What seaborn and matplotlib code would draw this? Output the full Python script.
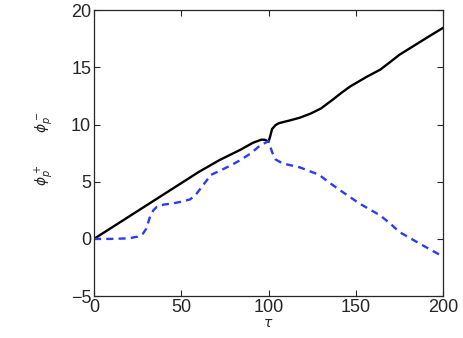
import numpy as np
import pandas as pd
import matplotlib
matplotlib.use("Agg")
import matplotlib.pyplot as plt
import seaborn as sns

# phi_p^+ (solid black)
tau_plus = [0, 20, 40, 60, 72, 84, 91, 96, 98, 100, 101, 102, 104, 106, 112, 118,
            124, 130, 137, 142, 147, 156, 164, 170, 175, 185, 194, 200]
phi_plus = [0, 1.95, 3.9, 5.85, 6.9, 7.8, 8.4, 8.68, 8.66, 8.5, 9.0, 9.6, 9.95, 10.12,
            10.35, 10.6, 10.95, 11.4, 12.2, 12.8, 13.35, 14.15, 14.8, 15.5, 16.1, 17.05,
            17.9, 18.45]

# phi_p^- (dashed blue)
tau_minus = [0, 10, 20, 25, 28, 30, 32, 34, 36, 40, 45, 50, 55, 58, 61, 64, 67, 72,
             78, 84, 90, 95, 100, 102, 104, 108, 118, 129, 135, 141, 152, 164, 170,
             175, 187, 200]
phi_minus = [0, 0, 0.05, 0.2, 0.45, 0.9, 1.9, 2.5, 2.8, 3.0, 3.1, 3.25, 3.45, 3.8,
             4.4, 5.0, 5.6, 5.95, 6.4, 6.9, 7.5, 8.15, 8.55, 7.6, 6.95, 6.6, 6.25,
             5.6, 4.9, 4.25, 3.1, 2.05, 1.3, 0.6, -0.45, -1.55]

sns.set_style("ticks")
plt.rcParams['font.family'] = ['Liberation Sans', 'DejaVu Sans']
plt.rcParams['mathtext.fontset'] = 'dejavusans'

fig = plt.figure(figsize=(4.63, 3.38), dpi=100)
ax = fig.add_axes([0.203, 0.124, 0.754, 0.846])

sns.lineplot(x=tau_plus, y=phi_plus, ax=ax, color='black', linewidth=1.7)
sns.lineplot(x=tau_minus, y=phi_minus, ax=ax, color='#2a3cf5', linewidth=1.7,
             linestyle=(0, (3, 2.2)))

ax.set_xlim(0, 200)
ax.set_ylim(-5, 20)
ax.set_xticks([0, 50, 100, 150, 200])
ax.set_yticks([-5, 0, 5, 10, 15, 20])
ax.tick_params(direction='in', length=4, width=0.8, top=True, right=True,
               labelsize=13, pad=2)
for s in ax.spines.values():
    s.set_linewidth(0.9)
    s.set_visible(True)

ax.set_xlabel(r'$\tau$', fontsize=10, labelpad=0)
ax.set_ylabel(r'$\phi_p^+$        $\phi_p^-$', fontsize=10)
ax.yaxis.set_label_coords(-0.108, 0.517)

plt.savefig('out.png', dpi=100)
plt.close()
